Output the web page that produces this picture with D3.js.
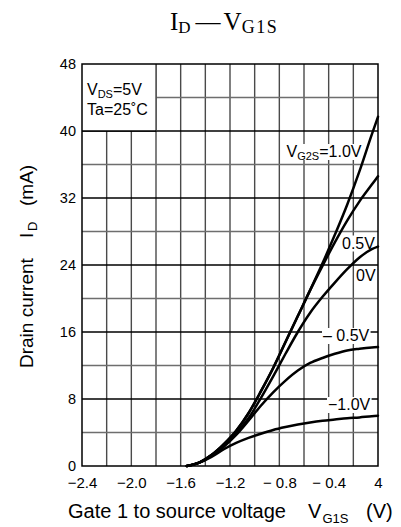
<!DOCTYPE html>
<html><head><meta charset="utf-8">
<script src="https://cdn.jsdelivr.net/npm/d3@7"></script>
<style>html,body{margin:0;padding:0;background:#fff;}svg{display:block;}</style>
</head><body>
<svg id="c" width="401" height="527"></svg>
<script>
// ---- data ----
const vg1s = [-1.55,-1.45,-1.35,-1.25,-1.15,-1.05,-0.95,-0.85,-0.75,-0.65,-0.55,-0.45,-0.35,-0.25,-0.15,-0.05,0];
const id_vg2s_p10 = [0,0.4,1.3,2.6,4.2,6.3,8.9,11.7,14.8,17.9,21.0,24.2,27.6,31.2,35.2,39.6,41.7];
const id_vg2s_p05 = [0,0.4,1.3,2.6,4.2,6.3,8.9,11.7,14.8,17.9,21.0,23.9,26.7,29.3,31.6,33.6,34.6];
const id_vg2s_0   = [0,0.4,1.3,2.5,3.9,5.7,8.1,10.7,13.4,16.0,18.3,20.2,21.9,23.5,24.9,25.9,26.2];
const id_vg2s_m05 = [0,0.4,1.2,2.3,3.7,5.4,7.2,8.8,10.2,11.4,12.3,12.9,13.4,13.8,14.0,14.15,14.2];
const id_vg2s_m10 = [0,0.4,1.1,2.0,2.75,3.35,3.85,4.3,4.65,4.95,5.2,5.4,5.55,5.7,5.8,5.95,6.0];
const seriesList = [id_vg2s_p10, id_vg2s_p05, id_vg2s_0, id_vg2s_m05, id_vg2s_m10];
const xTickValues = [-2.4,-2.0,-1.6,-1.2,-0.8,-0.4,0];
const xTickLabels = ["\u22122.4","\u22122.0","\u22121.6","\u22121.2","\u2212 0.8","\u2212 0.4","4"];
const yTickValues = [0,8,16,24,32,40,48];
const yTickLabels = ["0","8","16","24","32","40","48"];

// ---- layout ----
const svg = d3.select("#c");
const L = 82, R = 378, T = 64, B = 466;
const x = d3.scaleLinear().domain([-2.4, 0]).range([L, R]);
const y = d3.scaleLinear().domain([0, 48]).range([B, T]);
const sans = "'Liberation Sans', Arial, sans-serif";
const serif = "'Liberation Serif', 'Times New Roman', serif";

// grid
const g = svg.append("g");
d3.range(-2.2, -0.01, 0.2).forEach(v => {
  g.append("line").attr("x1", x(v)).attr("x2", x(v)).attr("y1", T).attr("y2", B)
    .attr("stroke", "#4a4a4a").attr("stroke-width", 1.4);
});
d3.range(4, 47, 4).forEach(v => {
  const major = v % 8 === 0;
  g.append("line").attr("x1", L).attr("x2", R).attr("y1", y(v)).attr("y2", y(v))
    .attr("stroke", major ? "#000" : "#6e6e6e").attr("stroke-width", 1.4);
});

// legend box (white)
svg.append("rect").attr("x", x(-2.4)).attr("y", y(48)).attr("width", x(-1.8) - x(-2.4)).attr("height", y(40) - y(48))
  .attr("fill", "#fff");
svg.append("line").attr("x1", x(-1.8)).attr("x2", x(-1.8)).attr("y1", y(48)).attr("y2", y(40)).attr("stroke", "#4a4a4a").attr("stroke-width", 1.4);
svg.append("line").attr("x1", x(-2.4)).attr("x2", x(-1.8)).attr("y1", y(40)).attr("y2", y(40)).attr("stroke", "#000").attr("stroke-width", 1.4);

const lt = svg.append("text").attr("x", 87).attr("y", 95).attr("font-family", sans).attr("font-size", 16).attr("fill", "#000");
lt.append("tspan").text("V");
lt.append("tspan").attr("font-size", 11).attr("dy", 3).text("DS");
lt.append("tspan").attr("dy", -3).text("=5V");
svg.append("text").attr("x", 87).attr("y", 115).attr("font-family", sans).attr("font-size", 16).text("Ta=25\u02DAC");

// curve labels with white backgrounds
const labels = [
  {parts: [["V",16,0],["G2S",11,3],["=1.0V",16,-3]], x: 286.5, y: 157},
  {parts: [["0.5V",16,0]], x: 342, y: 248.5},
  {parts: [["0V",16,0]], x: 356, y: 281},
  {parts: [["\u2013 0.5V",16,0]], x: 323, y: 341},
  {parts: [["\u22121.0V",16,0]], x: 328, y: 410}
];
const labelGroup = svg.append("g");
const bgGroup = labelGroup.append("g");
labels.forEach(lb => {
  const t = labelGroup.append("text").attr("x", lb.x).attr("y", lb.y).attr("font-family", sans).attr("fill", "#000");
  lb.parts.forEach(p => t.append("tspan").attr("font-size", p[1]).attr("dy", p[2]).text(p[0]));
  const bb = t.node().getBBox();
  bgGroup.append("rect").attr("x", bb.x - 1).attr("y", lb.y - 13).attr("width", bb.width + 2).attr("height", 16).attr("fill", "#fff");
});

// curves
const line = d3.line().x((d, i) => x(vg1s[i])).y(d => y(d)).curve(d3.curveMonotoneX);
const curveGroup = svg.append("g");
seriesList.forEach(s => {
  curveGroup.append("path").attr("d", line(s)).attr("fill", "none").attr("stroke", "#000").attr("stroke-width", 2.5)
    .attr("stroke-linejoin", "round").attr("stroke-linecap", "round");
});

// frame
svg.append("rect").attr("x", L).attr("y", T).attr("width", R - L).attr("height", B - T)
  .attr("fill", "none").attr("stroke", "#000").attr("stroke-width", 1.5);

// axes
const xAxis = d3.axisBottom(x).tickValues(xTickValues).tickSize(0).tickPadding(0)
  .tickFormat((d, i) => xTickLabels[i]);
const xa = svg.append("g").attr("transform", `translate(0,${B})`).call(xAxis);
xa.select(".domain").remove();
xa.selectAll("text").attr("font-family", sans).attr("font-size", 15).attr("fill", "#000").attr("dy", null).attr("y", 22);

const yAxis = d3.axisLeft(y).tickValues(yTickValues).tickSize(0).tickPadding(0)
  .tickFormat((d, i) => yTickLabels[i]);
const ya = svg.append("g").attr("transform", `translate(${L - 6},0)`).call(yAxis);
ya.select(".domain").remove();
ya.selectAll("text").attr("font-family", sans).attr("font-size", 14.5).attr("fill", "#000").attr("x", 0).attr("dy", "0.33em");

// title
const tt = svg.append("text").attr("x", 170).attr("y", 30).attr("font-family", serif).attr("font-size", 25).attr("fill", "#000");
tt.append("tspan").text("I");
tt.append("tspan").attr("font-size", 17).attr("dy", 2.5).text("D");
tt.append("tspan").attr("font-size", 25).attr("dy", -2.5).attr("dx", 5).text("\u2014");
tt.append("tspan").attr("dx", 3).text("V");
tt.append("tspan").attr("font-size", 18).attr("dy", 2.5).attr("letter-spacing", 1.5).text("G1S");

// x axis title
svg.append("text").attr("x", 68).attr("y", 518).attr("font-family", sans).attr("font-size", 20).text("Gate 1 to source voltage");
svg.append("text").attr("x", 308).attr("y", 518).attr("font-family", sans).attr("font-size", 20).text("V");
svg.append("text").attr("x", 322.5).attr("y", 523).attr("font-family", sans).attr("font-size", 13).text("G1S");
svg.append("text").attr("x", 366).attr("y", 518).attr("font-family", sans).attr("font-size", 20).text("(V)");

// y axis title
const yt = (txt, px, py, fs) => svg.append("text").attr("transform", `translate(${px},${py}) rotate(-90)`)
  .attr("font-family", sans).attr("font-size", fs).text(txt);
yt("Drain current", 33, 368, 19);
yt("I", 33, 238, 19);
yt("D", 37, 231, 13);
yt("(mA)", 33, 206, 19);
</script>
</body></html>
